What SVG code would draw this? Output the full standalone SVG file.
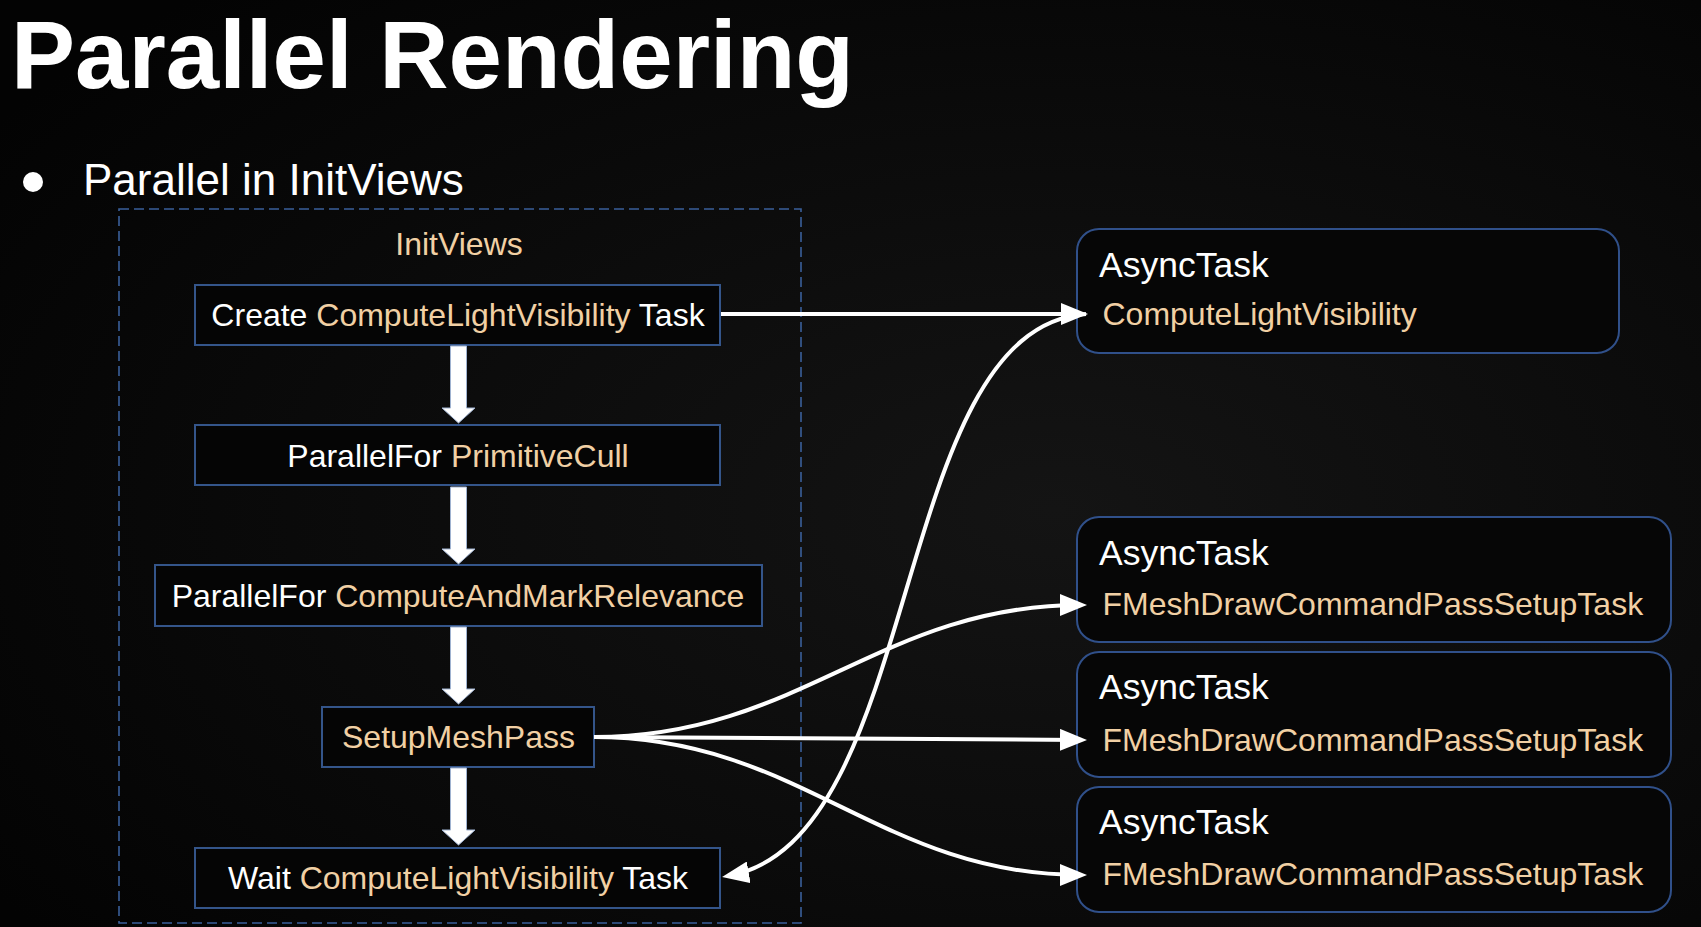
<svg xmlns="http://www.w3.org/2000/svg" width="1701" height="927" viewBox="0 0 1701 927">
<defs>
<radialGradient id="bg" cx="0.62" cy="0.55" r="0.75">
<stop offset="0" stop-color="#141414"/>
<stop offset="0.6" stop-color="#0a0a0a"/>
<stop offset="1" stop-color="#030303"/>
</radialGradient>
<marker id="ah" markerUnits="userSpaceOnUse" viewBox="0 0 27 22" markerWidth="27" markerHeight="22" refX="21" refY="11" orient="auto">
<path d="M0,0 L27,11 L0,22 Z" fill="#ffffff"/>
</marker>
<path id="blk" d="M-8,0 H8 V62 H16.5 L0,77 L-16.5,62 H-8 Z"/>
</defs>
<style>
text{font-family:"Liberation Sans",Arial,Helvetica,sans-serif;fill:#ffffff}
.tan{fill:#f1d0a4}
.box{fill:#050505;stroke:#34558a;stroke-width:2}
.rbox{fill:#060606;stroke:#30508a;stroke-width:2}
.lbl{font-size:32px;text-anchor:middle}
.at{font-size:35.5px}
.sub{font-size:32px;fill:#f1d0a4}
.con{fill:none;stroke:#ffffff;stroke-width:4;marker-end:url(#ah)}
.blk{fill:#ffffff;stroke:#9fb2d0;stroke-width:1}
</style>
<rect x="0" y="0" width="1701" height="927" fill="url(#bg)"/>
<g id="title">
<text x="11" y="87.5" font-size="96" font-weight="bold">Parallel Rendering</text>
</g>
<g id="bullet">
<circle cx="33" cy="182" r="10" fill="#ffffff"/>
<text x="83" y="195" font-size="44">Parallel in InitViews</text>
</g>
<g id="initviews-group">
<rect x="119" y="209" width="682" height="714" fill="none" stroke="#3a5f9a" stroke-width="1.6" stroke-dasharray="10 5"/>
<text x="459" y="255" font-size="32" text-anchor="middle" class="tan">InitViews</text>
</g>
<g id="node-create">
<rect class="box" x="195" y="285" width="525" height="60"/>
<text class="lbl" x="458" y="325.5">Create <tspan class="tan">ComputeLightVisibility</tspan> Task</text>
</g>
<g id="node-primitivecull">
<rect class="box" x="195" y="425" width="525" height="60"/>
<text class="lbl" x="458" y="466.5">ParallelFor <tspan class="tan">PrimitiveCull</tspan></text>
</g>
<g id="node-relevance">
<rect class="box" x="155" y="565" width="607" height="61"/>
<text class="lbl" x="458" y="607">ParallelFor <tspan class="tan">ComputeAndMarkRelevance</tspan></text>
</g>
<g id="node-setupmeshpass">
<rect class="box" x="322" y="707" width="272" height="60"/>
<text class="lbl tan" x="458.5" y="748">SetupMeshPass</text>
</g>
<g id="node-wait">
<rect class="box" x="195" y="848" width="525" height="60"/>
<text class="lbl" x="458" y="889">Wait <tspan class="tan">ComputeLightVisibility</tspan> Task</text>
</g>
<g id="node-async-light">
<rect class="rbox" x="1077" y="229" width="542" height="124" rx="22"/>
<text class="at" x="1099" y="277">AsyncTask</text>
<text class="sub" x="1102.5" y="325">ComputeLightVisibility</text>
</g>
<g id="node-async-mesh1">
<rect class="rbox" x="1077" y="517" width="594" height="125" rx="22"/>
<text class="at" x="1099" y="565">AsyncTask</text>
<text class="sub" x="1102.5" y="615">FMeshDrawCommandPassSetupTask</text>
</g>
<g id="node-async-mesh2">
<rect class="rbox" x="1077" y="652" width="594" height="125" rx="22"/>
<text class="at" x="1099" y="699">AsyncTask</text>
<text class="sub" x="1102.5" y="751">FMeshDrawCommandPassSetupTask</text>
</g>
<g id="node-async-mesh3">
<rect class="rbox" x="1077" y="787" width="594" height="125" rx="22"/>
<text class="at" x="1099" y="834">AsyncTask</text>
<text class="sub" x="1102.5" y="885">FMeshDrawCommandPassSetupTask</text>
</g>
<g id="connectors">
<use href="#blk" class="blk" transform="translate(458.5,346)"/>
<use href="#blk" class="blk" transform="translate(458.5,487)"/>
<use href="#blk" class="blk" transform="translate(458.5,627)"/>
<use href="#blk" class="blk" transform="translate(458.5,768)"/>
<path class="con" d="M721,314 L1082,314"/>
<path class="con" d="M594,737 C800,737 880,605 1081,605"/>
<path class="con" d="M594,737 L1081,740"/>
<path class="con" d="M594,737 C800,737 880,875 1081,875"/>
<path class="con" d="M1086,314 C888,328 926,841 728,876"/>
</g>
</svg>
